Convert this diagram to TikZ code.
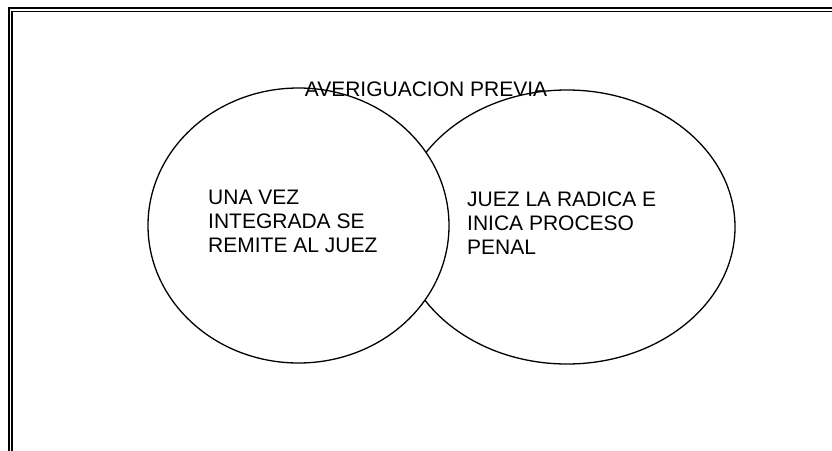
\documentclass[tikz,border=0pt]{standalone}
\usepackage{fontspec}
\setmainfont{Liberation Sans}
\usetikzlibrary{shapes.geometric}

\begin{document}
\begin{tikzpicture}[
            x=1pt, y=-1pt,
            font=\fontsize{21}{24}\selectfont,
            oval/.style   ={draw, shape=ellipse, line width=1.3pt, inner sep=0pt},
            oval txt/.style={align=left, anchor=north west, inner sep=0pt},
            rule out/.style={line width=2pt},
            rule in/.style ={line width=1.2pt}
        ]
        \useasboundingbox (0,0) rectangle (832,450);
        \clip (0,0) rectangle (832,450);
        %% ---- page frame: double rule, cut off at right and bottom ----------
        \draw[rule out] (9,470) -- (9,8) -- (850,8);
        \draw[rule in] (12,470) -- (12,11.5) -- (850,11.5);

        %% ---- the two ovals (left one covers the right one) -----------------
        \node[oval, minimum width=336pt, minimum height=274pt] (juez) at (567,227) {};
        \node[oval, fill=white, minimum width=301pt, minimum height=275pt] (previa) at (298.5,225.5) {};

        % texts
        \node[anchor=base] (titulo) at (426,96) {AVERIGUACION PREVIA};
        \node[oval txt] (remite) at (208,190) {UNA VEZ\\INTEGRADA SE\\REMITE AL JUEZ};
        \node[oval txt] (radica) at (467,192) {JUEZ LA RADICA E\\INICA PROCESO\\PENAL};
    \end{tikzpicture}
\end{document}
